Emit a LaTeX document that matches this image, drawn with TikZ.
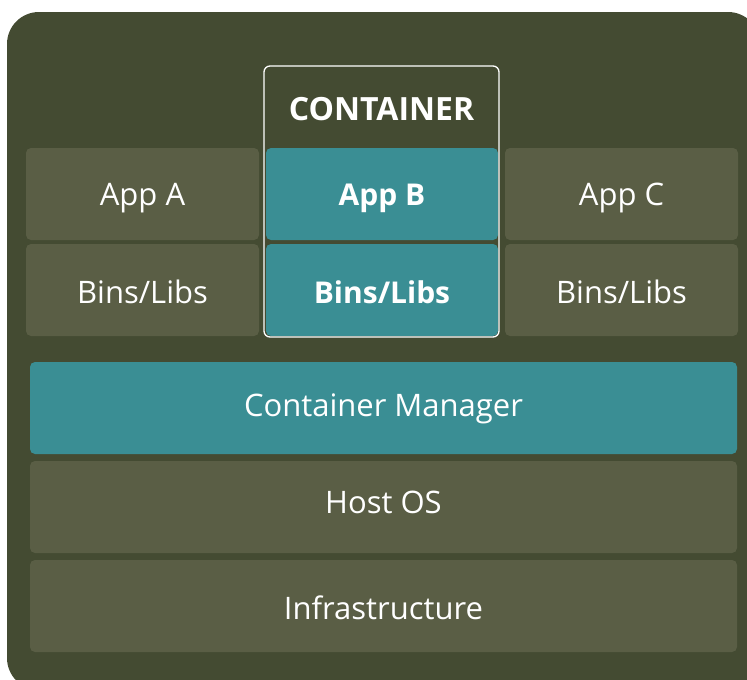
\documentclass[tikz,border=0pt]{standalone}
\usepackage{fontspec}
\setmainfont{Open Sans}
\usetikzlibrary{positioning}

\definecolor{bgolive}{RGB}{68,75,50}
\definecolor{boxolive}{RGB}{90,94,69}
\definecolor{boxteal}{RGB}{58,142,148}

\begin{document}
\begin{tikzpicture}[x=1pt, y=-1pt,
    every node/.style={text=white, font=\fontsize{31}{36}\selectfont,
        text height=22pt, text depth=0pt},
    layer/.style={fill=boxolive, rounded corners=5pt, inner sep=0pt,
        minimum height=92pt},
    slot/.style={layer, minimum width=233pt},
    wide/.style={layer, minimum width=707pt},
    tealbox/.style={fill=boxteal, font=\fontsize{30}{36}\selectfont\bfseries}]
        \useasboundingbox (0,0) rectangle (747,680);
        \clip (0,0) rectangle (747,680);
        \fill[bgolive, rounded corners=32pt] (7,12) rectangle (760,690);
        % apps and libs
        \node[slot] (appA) at (142.5,194) {App A};
        \node[slot, text height=26pt] (binsA) at (142.5,290) {Bins/Libs};
        \node[slot, minimum width=232pt, tealbox] (appB) at (382,194) {App B};
        \node[slot, minimum width=232pt, tealbox, text height=26pt] (binsB)
            at (382,290) {Bins/Libs};
        \node[slot] (appC) at (621.5,194) {App C};
        \node[slot, text height=26pt] (binsC) at (621.5,290) {Bins/Libs};
        % container outline
        \node[draw=white, line width=1.3pt, rounded corners=6pt,
            minimum width=235pt, minimum height=271pt] (container)
            at (381.5,201.5) {};
        \node[font=\fontsize{32}{40}\selectfont\bfseries] (contitle)
            at (381.5,109) {CONTAINER};
        % lower layers
        \node[wide, tealbox, font=\fontsize{31}{36}\selectfont, text depth=5pt]
            (manager) at (383.5,408) {Container Manager};
        \node[wide, text depth=9pt] (hostos) at (383.5,507) {Host OS};
        \node[wide, text height=26pt] (infra) at (383.5,606) {Infrastructure};
    \end{tikzpicture}
\end{document}
